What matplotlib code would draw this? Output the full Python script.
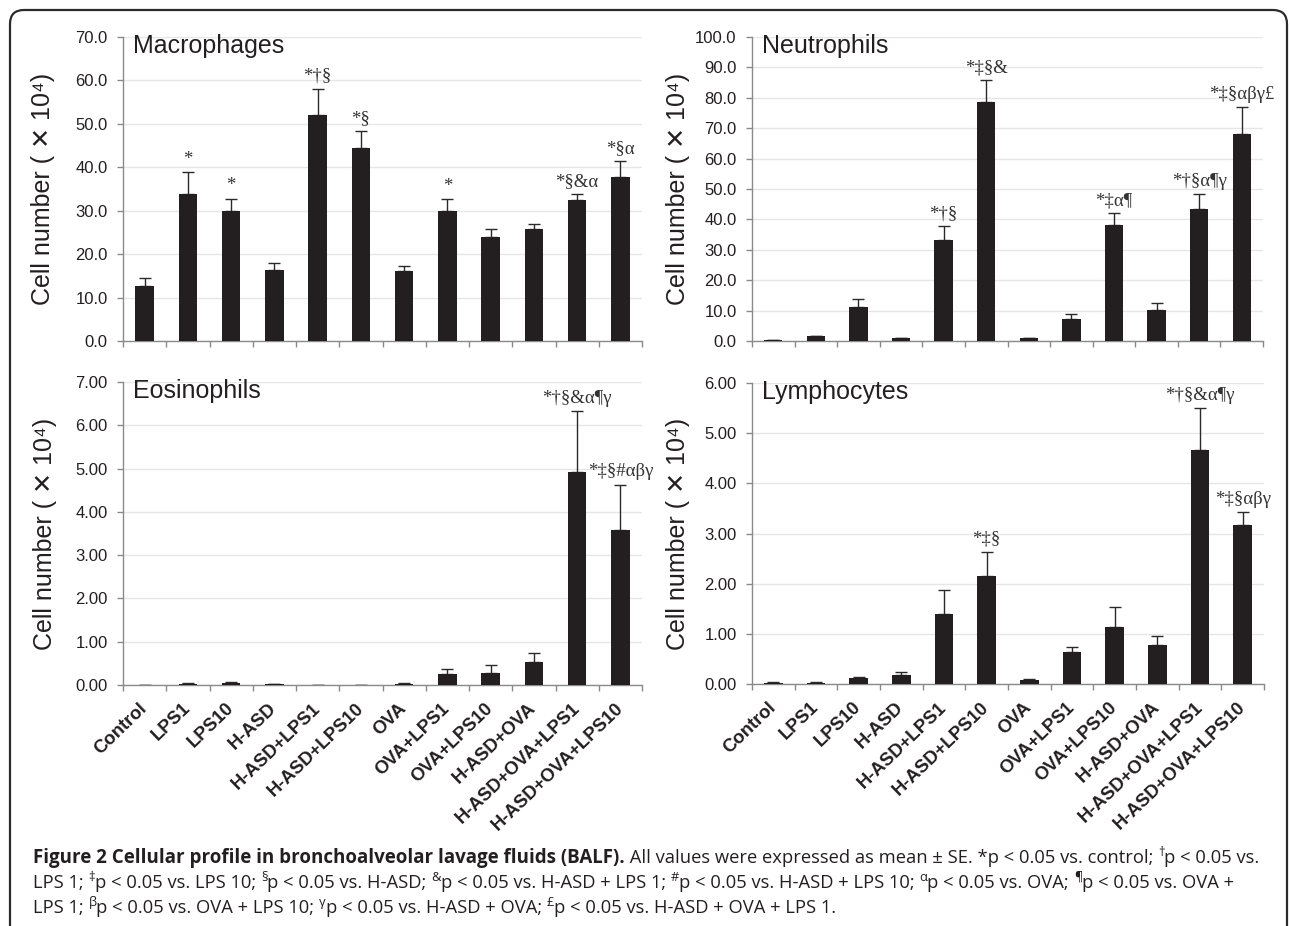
import matplotlib
matplotlib.use("Agg")
import matplotlib.pyplot as plt
import numpy as np
from matplotlib.patches import FancyBboxPatch
from matplotlib.transforms import IdentityTransform, offset_copy
from matplotlib.ticker import FormatStrFormatter, MultipleLocator, FixedLocator

# ---------------- data ----------------
categories = ["Control", "LPS1", "LPS10", "H-ASD", "H-ASD+LPS1", "H-ASD+LPS10",
              "OVA", "OVA+LPS1", "OVA+LPS10", "H-ASD+OVA", "H-ASD+OVA+LPS1",
              "H-ASD+OVA+LPS10"]

macro_mean = [12.6, 33.9, 29.9, 16.4, 52.1, 44.4, 16.1, 29.9, 23.9, 25.8, 32.5, 37.8]
macro_se = [1.9, 4.9, 2.9, 1.6, 5.9, 4.0, 1.1, 2.8, 1.8, 1.1, 1.3, 3.6]
macro_sig = ["", "*", "*", "", "*†§", "*§", "", "*", "", "", "*§&α", "*§α"]

neut_mean = [0.2, 1.5, 11.2, 1.0, 33.2, 78.7, 0.9, 7.2, 38.2, 10.3, 43.4, 68.2]
neut_se = [0.0, 0.3, 2.7, 0.1, 4.5, 7.0, 0.1, 1.8, 3.8, 2.2, 4.8, 8.7]
neut_sig = ["", "", "", "", "*†§", "*‡§&", "", "", "*‡α¶", "", "*†§α¶γ", "*‡§αβγ£"]

eos_mean = [0.005, 0.02, 0.05, 0.015, 0.005, 0.005, 0.03, 0.25, 0.27, 0.53, 4.92, 3.59]
eos_se = [0.0, 0.02, 0.03, 0.005, 0.0, 0.0, 0.015, 0.11, 0.19, 0.22, 1.40, 1.04]
eos_sig = ["", "", "", "", "", "", "", "", "", "", "*†§&α¶γ", "*‡§#αβγ"]

lymph_mean = [0.027, 0.027, 0.11, 0.18, 1.40, 2.16, 0.087, 0.63, 1.13, 0.77, 4.66, 3.17]
lymph_se = [0.013, 0.008, 0.02, 0.05, 0.47, 0.48, 0.013, 0.115, 0.41, 0.19, 0.84, 0.25]
lymph_sig = ["", "", "", "", "", "*‡§", "", "", "", "", "*†§&α¶γ", "*‡§αβγ"]

panel_titles = ["Macrophages", "Neutrophils", "Eosinophils", "Lymphocytes"]
y_max = [70, 100, 7, 6]
y_step = [10, 10, 1, 1]
y_fmt = ["%.1f", "%.1f", "%.2f", "%.2f"]
ylabel_text = "Cell number ( ✕ 10⁴)"

# caption: list of (text, style) where style is "b" bold, "n" normal, "s" superscript
caption_lines = [
    [("Figure 2 Cellular profile in bronchoalveolar lavage fluids (BALF).", "b"),
     (" All values were expressed as mean ± SE. *p < 0.05 vs. control; ", "n"),
     ("†", "s"), ("p < 0.05 vs.", "n")],
    [("LPS 1; ", "n"), ("‡", "s"), ("p < 0.05 vs. LPS 10; ", "n"), ("§", "s"),
     ("p < 0.05 vs. H-ASD; ", "n"), ("&", "s"), ("p < 0.05 vs. H-ASD + LPS 1; ", "n"),
     ("#", "s"), ("p < 0.05 vs. H-ASD + LPS 10; ", "n"), ("α", "s"),
     ("p < 0.05 vs. OVA; ", "n"), ("¶", "s"), ("p < 0.05 vs. OVA +", "n")],
    [("LPS 1; ", "n"), ("β", "s"), ("p < 0.05 vs. OVA + LPS 10; ", "n"), ("γ", "s"),
     ("p < 0.05 vs. H-ASD + OVA; ", "n"), ("£", "s"), ("p < 0.05 vs. H-ASD + OVA + LPS 1.", "n")],
]

# ---------------- style ----------------
plt.rcParams["font.family"] = ["Liberation Sans", "DejaVu Sans"]

W, H = 1290, 926
fig = plt.figure(figsize=(W / 100, H / 100), dpi=100)

bar_color = "#231f20"
axis_color = "#8a8a8a"
grid_color = "#e6e6e6"

rects_px = [(123, 37, 642, 341), (752, 37, 1263, 341),
            (123, 382, 642, 685), (752, 383, 1264, 684)]
ylabel_x = [-0.131, -0.121, -0.127, -0.121]

means = [macro_mean, neut_mean, eos_mean, lymph_mean]
ses = [macro_se, neut_se, eos_se, lymph_se]
sigs = [macro_sig, neut_sig, eos_sig, lymph_sig]

x = np.arange(len(categories))
for i in range(4):
    l, t, r, b = rects_px[i]
    ax = fig.add_axes([l / W, 1 - b / H, (r - l) / W, (b - t) / H])
    m = np.array(means[i])
    e = np.array(ses[i])
    ax.bar(x, m, width=0.43, color=bar_color, zorder=3)
    ax.errorbar(x, m, yerr=[np.zeros_like(e), e], fmt="none", ecolor="#2a2a2a",
                elinewidth=1.0, capsize=4, capthick=1.0, zorder=2)
    trans = offset_copy(ax.transData, fig=fig, x=0, y=3, units="points")
    for xi, yi, s in zip(x, m + e, sigs[i]):
        if s:
            ax.text(xi, yi, s, ha="center", va="bottom", transform=trans,
                    fontsize=13.5, color="#333333",
                    family=["Liberation Serif", "DejaVu Serif"])
    ax.set_xlim(-0.5, len(categories) - 0.5)
    ax.set_ylim(0, y_max[i])
    ax.yaxis.set_major_locator(MultipleLocator(y_step[i]))
    ax.yaxis.set_major_formatter(FormatStrFormatter(y_fmt[i]))
    ax.yaxis.grid(True, color=grid_color, linewidth=1.0, zorder=0)
    ax.set_axisbelow(True)
    for sp in ["top", "right"]:
        ax.spines[sp].set_visible(False)
    for sp in ["left", "bottom"]:
        ax.spines[sp].set_color(axis_color)
        ax.spines[sp].set_linewidth(1.0)
    ax.tick_params(axis="y", direction="out", length=4, width=1.0, color=axis_color,
                   labelsize=12, labelcolor="#231f20", pad=7)
    ax.xaxis.set_minor_locator(FixedLocator(np.arange(-0.5, len(categories), 1.0)))
    ax.xaxis.set_major_locator(FixedLocator(x))
    ax.tick_params(axis="x", which="minor", direction="out", length=4, width=1.0,
                   color=axis_color)
    ax.tick_params(axis="x", which="major", length=0, pad=15)
    if i >= 2:
        ax.set_xticklabels(categories, rotation=44, ha="right", va="center",
                           rotation_mode="anchor", fontsize=13.3, fontweight="bold",
                           color="#231f20")
    else:
        ax.set_xticklabels([])
    ax.set_ylabel(ylabel_text, fontsize=18, color="#231f20")
    ax.yaxis.set_label_coords(ylabel_x[i], 0.5)
    ax.text(0.02, 1.01, panel_titles[i], transform=ax.transAxes, ha="left", va="top",
            fontsize=18, color="#231f20")

# frame
frame = FancyBboxPatch((10, -20), 1277, 926 - 10 + 20, boxstyle="round,pad=0,rounding_size=14",
                       transform=IdentityTransform(), fill=False, edgecolor="#2b2b2b",
                       linewidth=1.6)
fig.add_artist(frame)

# caption drawn segment by segment
cap_fs_b = 13.5
cap_fs = 13.2
cx = 33
baselines = [863, 888, 913]
fig.canvas.draw()
renderer = fig.canvas.get_renderer()
for segs, base in zip(caption_lines, baselines):
    xpos = cx
    for txt, style in segs:
        if style == "s":
            t = fig.text(xpos / W, 1 - (base - 7) / H, txt, fontsize=cap_fs * 0.7,
                         family=["Open Sans", "DejaVu Sans"], color="#231f20",
                         va="baseline", ha="left")
        else:
            t = fig.text(xpos / W, 1 - base / H, txt,
                         fontsize=cap_fs_b if style == "b" else cap_fs,
                         fontweight="bold" if style == "b" else "normal",
                         family=["Open Sans", "DejaVu Sans"], color="#231f20",
                         va="baseline", ha="left")
        bb = t.get_window_extent(renderer=renderer)
        xpos = bb.x1

fig.savefig("out.png", dpi=100)
